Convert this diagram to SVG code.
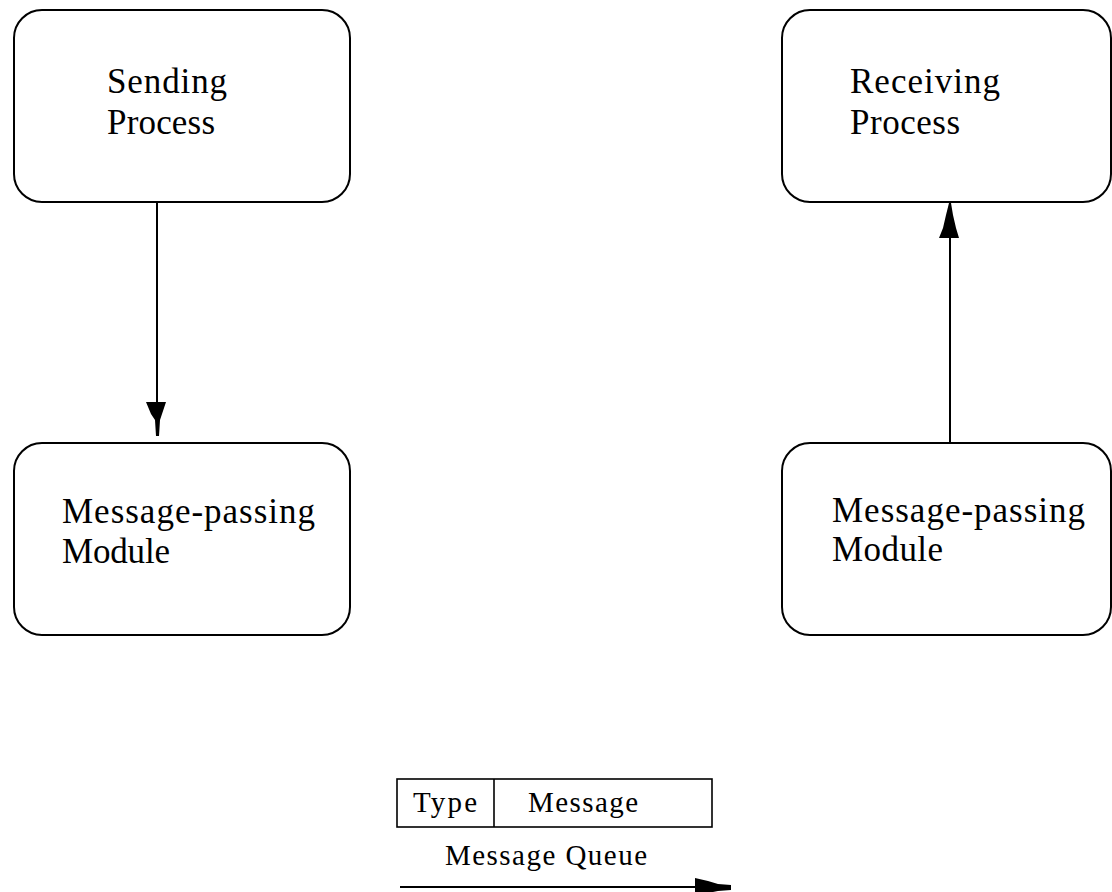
<svg xmlns="http://www.w3.org/2000/svg" width="1112" height="892" viewBox="0 0 1112 892">
  <style>
    .box { fill: #ffffff; stroke: #000000; stroke-width: 2; }
    .cell { fill: #ffffff; stroke: #000000; stroke-width: 1.6; }
    .lbl { font-family: "Liberation Serif", "Times New Roman", serif; font-size: 35px; fill: #000000; }
    .small { font-family: "Liberation Serif", "Times New Roman", serif; font-size: 29px; fill: #000000; }
    .wire { stroke: #000000; stroke-width: 2; fill: none; }
    .head { fill: #000000; stroke: none; }
  </style>
  <rect width="1112" height="892" fill="#ffffff"/>

  <g id="sending-process">
    <rect class="box" x="14" y="10" width="336" height="192" rx="28" ry="28"/>
    <text class="lbl" x="107" y="93" textLength="120" lengthAdjust="spacing">Sending</text>
    <text class="lbl" x="107" y="134" textLength="108" lengthAdjust="spacing">Process</text>
  </g>

  <g id="receiving-process">
    <rect class="box" x="782" y="10" width="329" height="192" rx="28" ry="28"/>
    <text class="lbl" x="850" y="93" textLength="150" lengthAdjust="spacing">Receiving</text>
    <text class="lbl" x="850" y="134" textLength="110" lengthAdjust="spacing">Process</text>
  </g>

  <g id="sender-module">
    <rect class="box" x="14" y="443" width="336" height="192" rx="28" ry="28"/>
    <text class="lbl" x="62" y="523" textLength="253" lengthAdjust="spacing">Message-passing</text>
    <text class="lbl" x="62" y="563" textLength="108" lengthAdjust="spacing">Module</text>
  </g>

  <g id="receiver-module">
    <rect class="box" x="782" y="443" width="329" height="192" rx="28" ry="28"/>
    <text class="lbl" x="832" y="522" textLength="253" lengthAdjust="spacing">Message-passing</text>
    <text class="lbl" x="832" y="561" textLength="111" lengthAdjust="spacing">Module</text>
  </g>

  <g id="message-format">
    <rect class="cell" x="397" y="779" width="315" height="48"/>
    <line class="cell" x1="494" y1="779" x2="494" y2="827"/>
    <text class="small" x="413" y="812" textLength="64" lengthAdjust="spacing">Type</text>
    <text class="small" x="528" y="812" textLength="110" lengthAdjust="spacing">Message</text>
    <text class="small" x="445" y="865" textLength="202" lengthAdjust="spacing">Message Queue</text>
  </g>

  <g id="connectors">
    <!-- sending process down to its module -->
    <line class="wire" x1="157" y1="202" x2="157" y2="404"/>
    <path class="head" d="M146,402 L166,402 L162,414 L160,420 L159,436 L156,436 L155,420 L151,414 Z"/>
    <!-- module up to receiving process -->
    <line class="wire" x1="950" y1="443" x2="950" y2="236"/>
    <path class="head" d="M949,203 L951,203 L953,215 L956,228 L959,238 L939,238 L943,228 L946,215 Z"/>
    <!-- queue direction -->
    <line class="wire" x1="400" y1="887" x2="700" y2="887"/>
    <path class="head" d="M695,878 L708,881 L718,884 L731,885 L731,890 L718,891 L708,893 L695,896 Z"/>
  </g>
</svg>
